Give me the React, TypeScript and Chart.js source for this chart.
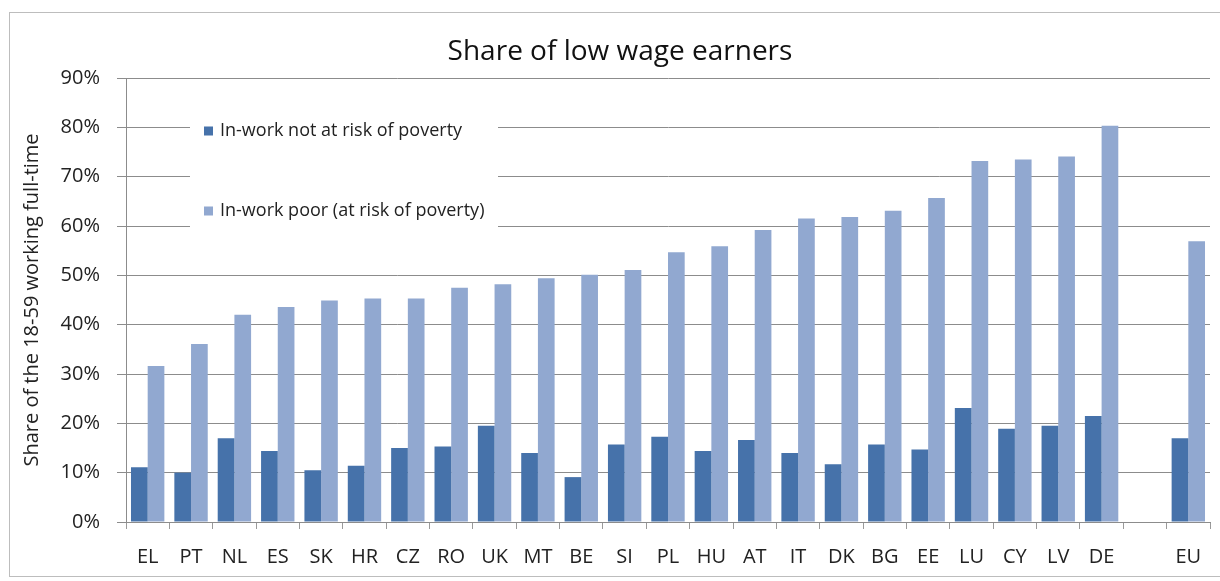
import React, { useEffect, useRef } from 'react';
import { Chart, registerables } from 'chart.js';

Chart.register(...registerables);

const categories = ['EL', 'PT', 'NL', 'ES', 'SK', 'HR', 'CZ', 'RO', 'UK', 'MT', 'BE', 'SI', 'PL', 'HU', 'AT', 'IT', 'DK', 'BG', 'EE', 'LU', 'CY', 'LV', 'DE', '', 'EU'];
const notAtRisk = [11.1, 10.0, 17.0, 14.4, 10.5, 11.4, 15.0, 15.3, 19.5, 14.0, 9.1, 15.7, 17.3, 14.4, 16.6, 14.0, 11.7, 15.7, 14.7, 23.1, 18.9, 19.5, 21.5, null, 17.0];
const poor = [31.6, 36.1, 42.0, 43.6, 44.9, 45.3, 45.3, 47.5, 48.2, 49.4, 50.1, 51.1, 54.7, 55.9, 59.2, 61.5, 61.8, 63.1, 65.7, 73.2, 73.5, 74.1, 80.3, null, 56.9];
const seriesLabels = ['In-work not at risk of poverty', 'In-work poor (at risk of poverty)'];
const chartTitle = 'Share of low wage earners';
const yAxisTitle = 'Share of the 18-59 working full-time';

const DARK = '#4672AA';
const LIGHT = '#91A8D0';
const FONT = "'Open Sans', 'DejaVu Sans', sans-serif";

const decor = {
  id: 'decor',
  beforeDraw(chart: any) {
    const ctx = chart.ctx;
    ctx.save();
    ctx.fillStyle = '#ffffff';
    ctx.fillRect(0, 0, chart.width, chart.height);
    ctx.restore();
  },
  afterDatasetsDraw(chart: any) {
    const ctx = chart.ctx;
    ctx.save();
    ctx.fillStyle = '#ffffff';
    ctx.fillRect(190, 95, 308, 150);
    const rows = [131, 211];
    chart.data.datasets.forEach((ds: any, i: number) => {
      ctx.fillStyle = ds.backgroundColor;
      ctx.fillRect(204, rows[i] - 4.5, 9, 9);
      ctx.fillStyle = '#222';
      ctx.font = `18px ${FONT}`;
      ctx.textBaseline = 'middle';
      ctx.textAlign = 'left';
      ctx.fillText(ds.label, 220, rows[i]);
    });
    ctx.restore();
  },
  afterDraw(chart: any) {
    const ctx = chart.ctx;
    ctx.save();
    ctx.strokeStyle = '#bdbdbd';
    ctx.lineWidth = 1;
    ctx.strokeRect(9.5, 12.5, 1215, 564);
    ctx.restore();
  },
};

export default function App() {
  const ref = useRef<HTMLCanvasElement>(null);
  useEffect(() => {
    document.body.style.margin = '0';
    const chart = new Chart(ref.current!, {
      type: 'bar',
      data: {
        labels: categories,
        datasets: [
          { label: seriesLabels[0], data: notAtRisk, backgroundColor: DARK, barPercentage: 1, categoryPercentage: 0.77 },
          { label: seriesLabels[1], data: poor, backgroundColor: LIGHT, barPercentage: 1, categoryPercentage: 0.77 },
        ],
      },
      options: {
        animation: false,
        responsive: false,
        devicePixelRatio: 1,
        layout: { padding: { left: 20, right: 0, top: 0, bottom: 0 } },
        plugins: {
          legend: { display: false },
          tooltip: { enabled: false },
          title: {
            display: true,
            text: chartTitle,
            color: '#111',
            font: { size: 28, family: FONT, weight: 'normal' },
            padding: { top: 35, bottom: 9.4 },
          },
        },
        scales: {
          x: {
            afterFit(scale: any) { scale.height = 59; },
            grid: { display: true, drawOnChartArea: false, tickLength: 7, color: '#9a9a9a', offset: true },
            border: { color: '#8c8c8c' },
            ticks: { autoSkip: false, maxRotation: 0, padding: 16, color: '#222', font: { size: 20, family: FONT } },
          },
          y: {
            min: 0,
            max: 90,
            afterFit(scale: any) { scale.width = 106; },
            grid: { color: '#8c8c8c', tickLength: 9 },
            border: { color: '#8c8c8c' },
            ticks: { stepSize: 10, padding: 17, color: '#222', font: { size: 20, family: FONT }, callback: (v: any) => `${v}%` },
            title: { display: true, text: yAxisTitle, color: '#222', font: { size: 20, family: FONT }, padding: 0 },
          },
          yRight: {
            type: 'linear',
            position: 'right',
            afterFit(scale: any) { scale.width = 10; },
            grid: { display: false, drawTicks: false },
            border: { display: false },
            ticks: { display: false },
          },
        },
      },
      plugins: [decor],
    });
    return () => chart.destroy();
  }, []);
  return (
    <div style={{ position: 'absolute', left: 0, top: 0, width: 1220, height: 581 }}>
      <canvas ref={ref} width={1220} height={581} />
    </div>
  );
}
